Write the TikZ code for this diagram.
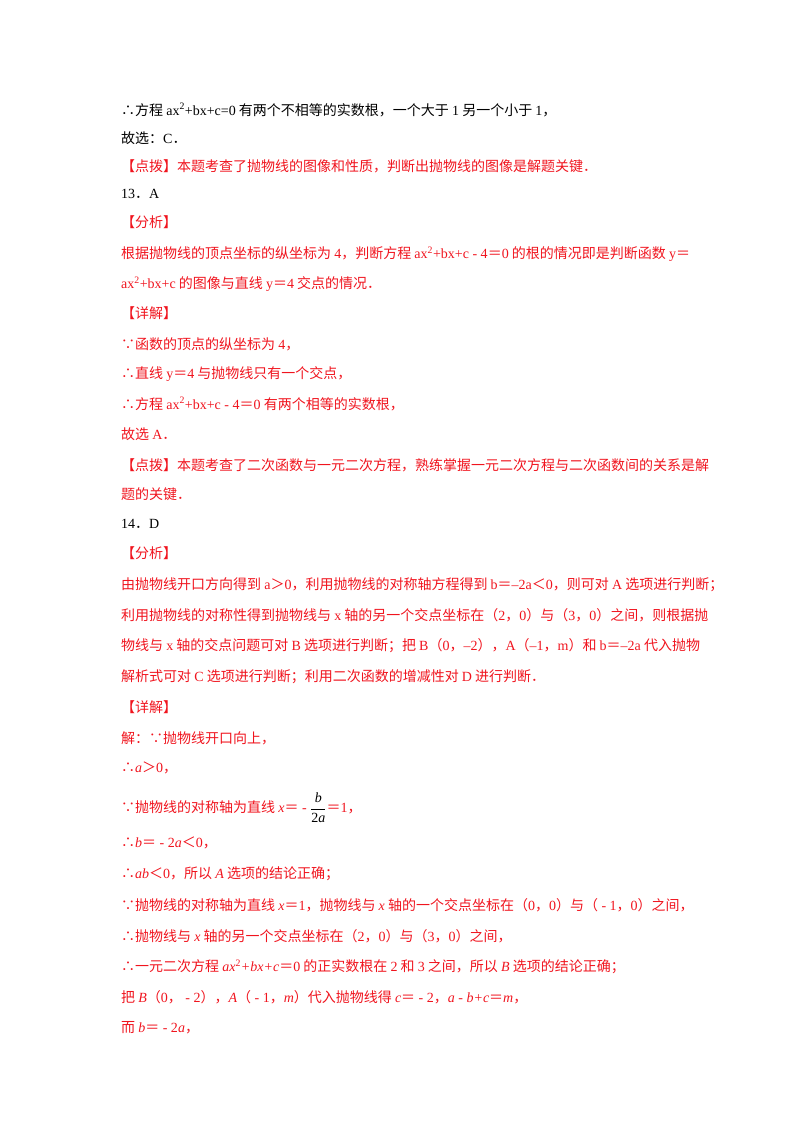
\documentclass[tikz,border=0pt]{standalone}
\usepackage{fontspec}
\setmainfont{Noto Sans CJK SC}
\newfontfamily\lat{Liberation Serif}
\newcommand{\e}[1]{{\lat #1}}
\newcommand{\m}[1]{{\lat\itshape #1}}
\definecolor{rd}{RGB}{240,20,30}
\begin{document}
\begin{tikzpicture}[x=1pt,y=-1pt,
  ln/.style={anchor=west,inner sep=0pt,font=\fontsize{14}{14}\selectfont},
  r/.style={ln,text=rd},
  b/.style={ln,text=black}]
\useasboundingbox (0,0) rectangle (800,1132);
\node[b] (l1) at (121,110) {∴方程 \e{ax\textsuperscript{2}+bx+c=0} 有两个不相等的实数根，一个大于 \e{1} 另一个小于 \e{1}，};
\node[b] (l2) at (121,138) {故选：\e{C}．};
\node[r] (l3) at (121,166) {【点拨】本题考查了抛物线的图像和性质，判断出抛物线的图像是解题关键．};
\node[b] (l4) at (121,194) {\e{13}．\e{A}};
\node[r] (l5) at (121,222) {【分析】};
\node[r] (l6) at (121,254) {根据抛物线的顶点坐标的纵坐标为 \e{4}，判断方程 \e{ax\textsuperscript{2}+bx+c - 4}＝\e{0} 的根的情况即是判断函数 \e{y}＝};
\node[r] (l7) at (121,284) {\e{ax\textsuperscript{2}+bx+c} 的图像与直线 \e{y}＝\e{4} 交点的情况．};
\node[r] (l8) at (121,313) {【详解】};
\node[r] (l9) at (121,344) {∵函数的顶点的纵坐标为 \e{4}，};
\node[r] (l10) at (121,374) {∴直线 \e{y}＝\e{4} 与抛物线只有一个交点，};
\node[r] (l11) at (121,404) {∴方程 \e{ax\textsuperscript{2}+bx+c - 4}＝\e{0} 有两个相等的实数根，};
\node[r] (l12) at (121,434) {故选 \e{A}．};
\node[r] (l13) at (121,465) {【点拨】本题考查了二次函数与一元二次方程，熟练掌握一元二次方程与二次函数间的关系是解};
\node[r] (l14) at (121,494) {题的关键．};
\node[b] (l15) at (121,524) {\e{14}．\e{D}};
\node[r] (l16) at (121,553) {【分析】};
\node[r] (l17) at (121,585) {由抛物线开口方向得到 \e{a}＞\e{0}，利用抛物线的对称轴方程得到 \e{b}＝\e{–2a}＜\e{0}，则可对 \e{A} 选项进行判断；};
\node[r] (l18) at (121,615) {利用抛物线的对称性得到抛物线与 \e{x} 轴的另一个交点坐标在（\e{2}，\e{0}）与（\e{3}，\e{0}）之间，则根据抛};
\node[r] (l19) at (121,646) {物线与 \e{x} 轴的交点问题可对 \e{B} 选项进行判断；把 \e{B}（\e{0}，\e{–2}），\e{A}（\e{–1}，\e{m}）和 \e{b}＝\e{–2a} 代入抛物};
\node[r] (l20) at (121,677) {解析式可对 \e{C} 选项进行判断；利用二次函数的增减性对 \e{D} 进行判断．};
\node[r] (l21) at (121,707) {【详解】};
\node[r] (l22) at (121,738) {解：∵抛物线开口向上，};
\node[r] (l23) at (121,768) {∴\m{a}＞\e{0}，};
\node[r] (l24) at (121,808) {∵抛物线的对称轴为直线 \m{x}＝\e{ - }\textcolor{black}{$\displaystyle\frac{\mbox{\m{b}}}{\mbox{\e{2}\m{a}}}$}＝\e{1}，};
\node[r] (l25) at (121,843) {∴\m{b}＝\e{ - 2}\m{a}＜\e{0}，};
\node[r] (l26) at (121,874) {∴\m{ab}＜\e{0}，所以 \m{A} 选项的结论正确；};
\node[r] (l27) at (121,905) {∵抛物线的对称轴为直线 \m{x}＝\e{1}，抛物线与 \m{x} 轴的一个交点坐标在（\e{0}，\e{0}）与（\e{ - 1}，\e{0}）之间，};
\node[r] (l28) at (121,936) {∴抛物线与 \m{x} 轴的另一个交点坐标在（\e{2}，\e{0}）与（\e{3}，\e{0}）之间，};
\node[r] (l29) at (121,967) {∴一元二次方程 \m{ax}\textsuperscript{\e{2}}\m{+bx+c}＝\e{0} 的正实数根在 \e{2} 和 \e{3} 之间，所以 \m{B} 选项的结论正确；};
\node[r] (l30) at (121,997) {把 \m{B}（\e{0}，\e{ - 2}），\m{A}（\e{ - 1}，\m{m}）代入抛物线得 \m{c}＝\e{ - 2}，\m{a}\e{ - }\m{b+c}＝\m{m}，};
\node[r] (l31) at (121,1028) {而 \m{b}＝\e{ - 2}\m{a}，};
\end{tikzpicture}
\end{document}
